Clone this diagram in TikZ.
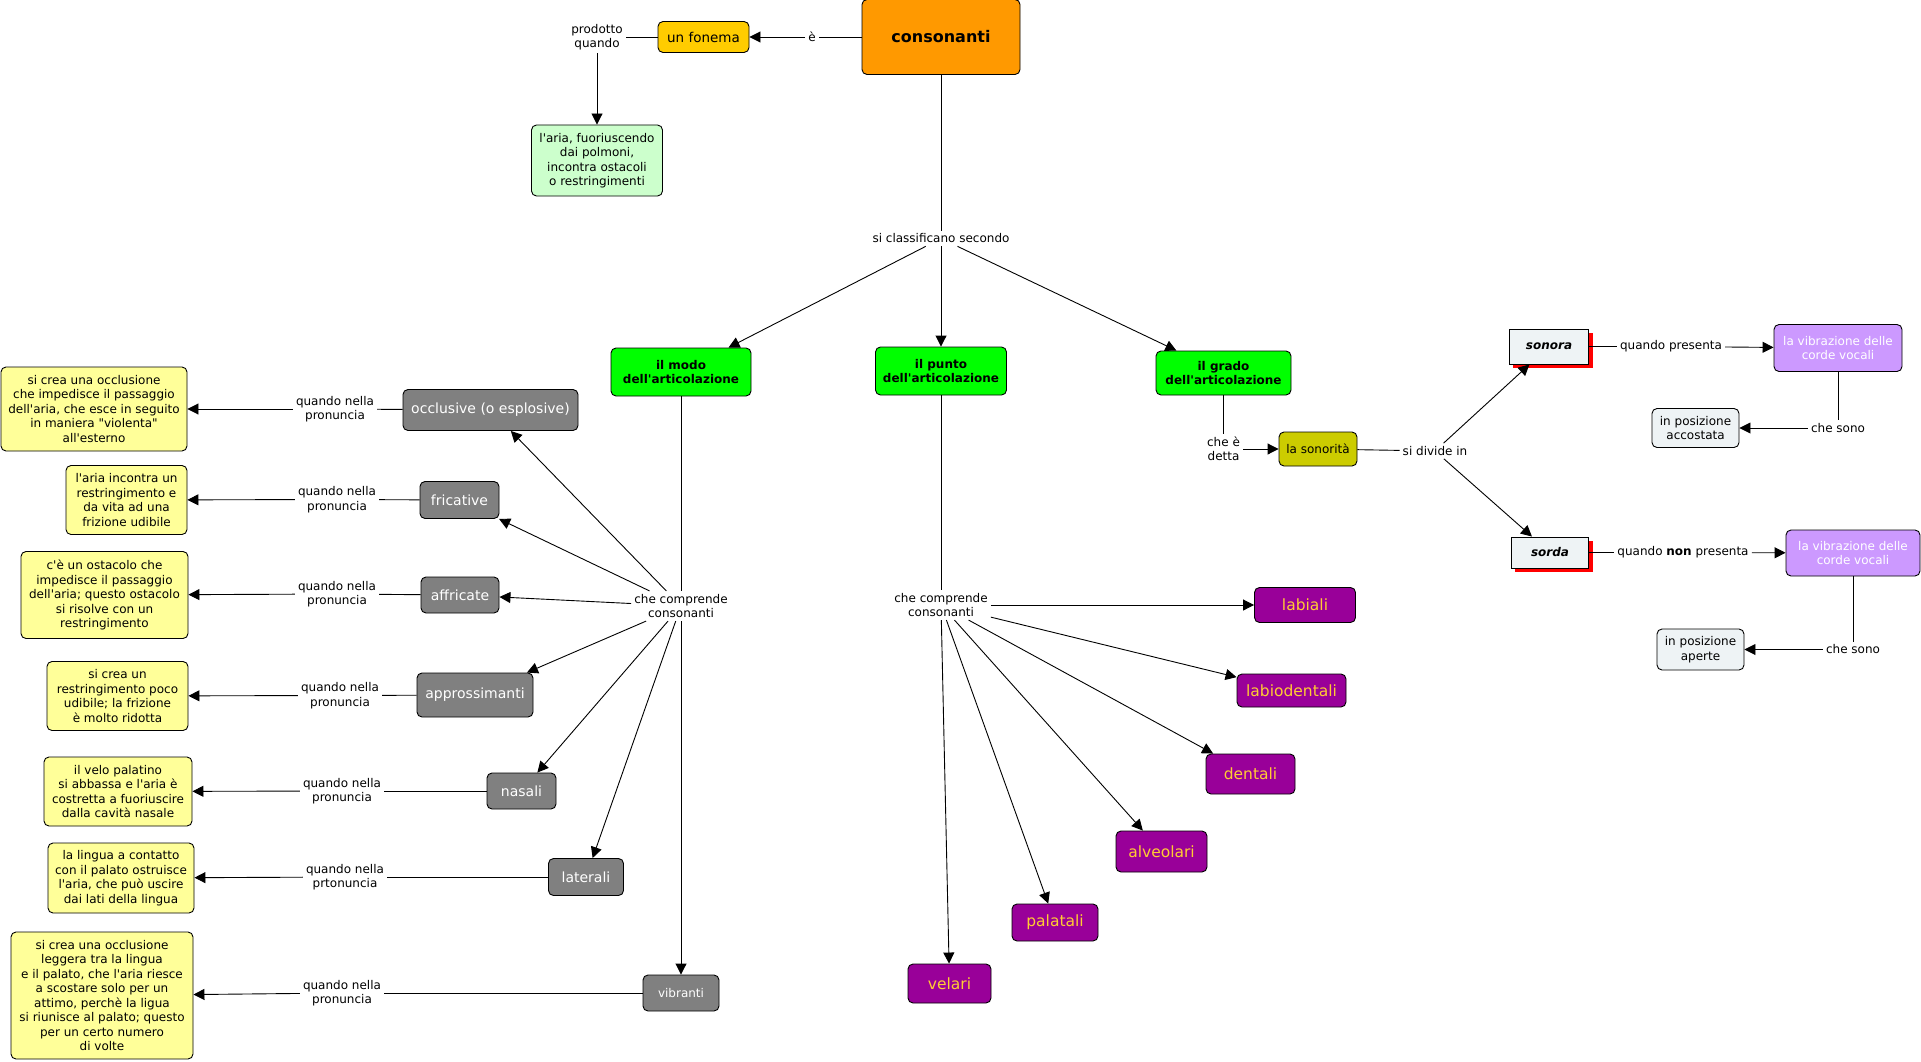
\documentclass[tikz,border=0pt]{standalone}
\usepackage{fontspec}
\setmainfont{DejaVu Sans}[Ligatures=TeXOff]
\usetikzlibrary{arrows.meta,shadows}
\definecolor{corange}{HTML}{FF9900}
\definecolor{cgold}{HTML}{FFCC00}
\definecolor{clgreen}{HTML}{CCFFCC}
\definecolor{cgreen}{HTML}{00FF00}
\definecolor{cgray}{HTML}{808080}
\definecolor{cyellow}{HTML}{FFFF99}
\definecolor{cpurple}{HTML}{990099}
\definecolor{cpurtext}{HTML}{FFCC33}
\definecolor{colive}{HTML}{CCCC00}
\definecolor{cpale}{HTML}{EEF3F5}
\definecolor{clav}{HTML}{CC99FF}
\newcommand\fsnorm{\fontsize{12}{14.5}\selectfont}
\tikzset{
  every node/.style={font=\fsnorm, align=center},
  sz/.style 2 args={minimum width=#1pt, minimum height=#2pt},
  box/.style={draw=black, line width=0.9pt, rounded corners=5pt, inner sep=2pt},
  graybox/.style={box, fill=cgray, text=white, font=\fontsize{14}{17}\selectfont},
  purplebox/.style={box, fill=cpurple, text=cpurtext, font=\fontsize{15.5}{18}\selectfont},
  yellowbox/.style={box, fill=cyellow},
  greenbox/.style={box, fill=cgreen, font=\bfseries\fontsize{12}{14.5}\selectfont},
  palebox/.style={box, fill=cpale},
  lavbox/.style={box, fill=clav, text=white},
  shadowbox/.style={draw=black, line width=0.9pt, fill=cpale, inner sep=2pt,
     font=\bfseries\itshape\fontsize{12}{14.5}\selectfont,
     drop shadow={shadow xshift=4pt, shadow yshift=-4pt, fill=red, opacity=1}},
  lab/.style={inner sep=3pt, fill=white},
  conn/.style={line width=0.9pt},
  arr/.style={conn, -{Triangle[length=11pt,width=11pt]}}
}
\begin{document}
\begin{tikzpicture}[x=1pt,y=-1pt]
\useasboundingbox (0,0) rectangle (1921,1062);
\fill[white] (0,0) rectangle (1921,1062);

% top
\node[box, fill=corange, sz={158}{75}, font=\bfseries\fontsize{16}{19}\selectfont] (cons) at (941,37) {consonanti};
\node[lab] (le) at (812,37) {è};
\node[box, fill=cgold, sz={91}{31}, font=\fontsize{13.5}{16}\selectfont] (fonema) at (703.5,37) {un fonema};
\node[lab] (lprod) at (597,37) {prodotto\\quando};
\node[box, fill=clgreen, sz={131}{71}] (aria) at (597,160.5) {l'aria, fuoriuscendo\\dai polmoni,\\incontra ostacoli\\o restringimenti};
\draw[conn] (cons) -- (le);
\draw[arr] (le) -- (fonema);
\draw[conn] (fonema) -- (lprod);
\draw[arr] (lprod) -- (aria);

\node[lab] (lclass) at (941,238.5) {si classificano secondo};
\node[greenbox, sz={140}{48}] (modo) at (681,372) {il modo\\dell'articolazione};
\node[greenbox, sz={131}{48}] (punto) at (941,371) {il punto\\dell'articolazione};
\node[greenbox, sz={135}{44}] (grado) at (1223.5,373) {il grado\\dell'articolazione};
\draw[conn] (cons) -- (lclass);
\draw[arr] (lclass) -- (modo);
\draw[arr] (lclass) -- (punto);
\draw[arr] (lclass) -- (grado);

% modo branch
\node[lab] (cc1) at (681,606) {che comprende\\consonanti};
\draw[conn] (modo) -- (cc1);
\node[graybox, sz={175}{41}] (occl) at (490.5,410) {occlusive (o esplosive)};
\node[graybox, sz={79}{37}] (fric) at (459.5,500) {fricative};
\node[graybox, sz={78}{36}] (affr) at (460,595) {affricate};
\node[graybox, sz={116}{44}] (appr) at (475,695) {approssimanti};
\node[graybox, sz={69}{36}] (nasa) at (521.5,791) {nasali};
\node[graybox, sz={75}{37}] (late) at (586,877) {laterali};
\node[graybox, sz={76}{36}, font=\fsnorm] (vibr) at (681,993) {vibranti};
\foreach \n in {occl,fric,affr,appr,nasa,late,vibr} \draw[arr] (cc1) -- (\n);

\node[yellowbox, sz={186}{84}] (y1) at (94,409) {si crea una occlusione\\che impedisce il passaggio\\dell'aria, che esce in seguito\\in maniera "violenta"\\all'esterno};
\node[yellowbox, sz={121}{69}] (y2) at (126.5,500) {l'aria incontra un\\restringimento e\\da vita ad una\\frizione udibile};
\node[yellowbox, sz={167}{87}] (y3) at (104.5,595) {c'è un ostacolo che\\impedisce il passaggio\\dell'aria; questo ostacolo\\si risolve con un\\restringimento};
\node[yellowbox, sz={141}{69}] (y4) at (117.5,696) {si crea un\\restringimento poco\\udibile; la frizione\\è molto ridotta};
\node[yellowbox, sz={148}{69}] (y5) at (118,791.5) {il velo palatino\\si abbassa e l'aria è\\costretta a fuoriuscire\\dalla cavità nasale};
\node[yellowbox, sz={146}{70}] (y6) at (121,878) {la lingua a contatto\\con il palato ostruisce\\l'aria, che può uscire\\dai lati della lingua};
\node[yellowbox, sz={182}{127}] (y7) at (102,995.5) {si crea una occlusione\\leggera tra la lingua\\e il palato, che l'aria riesce\\a scostare solo per un\\attimo, perchè la ligua\\si riunisce al palato; questo\\per un certo numero\\di volte};

\node[lab] (l1) at (335,409) {quando nella\\pronuncia};
\node[lab] (l2) at (337,499.5) {quando nella\\pronuncia};
\node[lab] (l3) at (337,594) {quando nella\\pronuncia};
\node[lab] (l4) at (340,695.5) {quando nella\\pronuncia};
\node[lab] (l5) at (342,791) {quando nella\\pronuncia};
\node[lab] (l6) at (345,877) {quando nella\\prtonuncia};
\node[lab] (l7) at (342,993) {quando nella\\pronuncia};
\draw[conn] (occl) -- (l1); \draw[arr] (l1) -- (y1);
\draw[conn] (fric) -- (l2); \draw[arr] (l2) -- (y2);
\draw[conn] (affr) -- (l3); \draw[arr] (l3) -- (y3);
\draw[conn] (appr) -- (l4); \draw[arr] (l4) -- (y4);
\draw[conn] (nasa) -- (l5); \draw[arr] (l5) -- (y5);
\draw[conn] (late) -- (l6); \draw[arr] (l6) -- (y6);
\draw[conn] (vibr) -- (l7); \draw[arr] (l7) -- (y7);

% punto branch
\node[lab] (cc2) at (941,605) {che comprende\\consonanti};
\draw[conn] (punto) -- (cc2);
\node[purplebox, sz={101}{35}] (labi) at (1305,605) {labiali};
\node[purplebox, sz={109}{33}] (labd) at (1291.5,690.5) {labiodentali};
\node[purplebox, sz={89}{40}] (dent) at (1250.5,774) {dentali};
\node[purplebox, sz={91}{41}] (alve) at (1161.5,851.5) {alveolari};
\node[purplebox, sz={86}{37}] (pala) at (1055,922.5) {palatali};
\node[purplebox, sz={83}{39}] (vela) at (949.5,983.5) {velari};
\foreach \n in {labi,labd,dent,alve,pala,vela} \draw[arr] (cc2) -- (\n);

% grado branch
\node[lab] (ldetta) at (1223.5,449) {che è\\detta};
\node[box, fill=colive, sz={78}{34}] (sono) at (1318,449) {la sonorità};
\node[lab] (ldiv) at (1435,451) {si divide in};
\draw[conn] (grado) -- (ldetta);
\draw[arr] (ldetta) -- (sono);
\draw[conn] (sono) -- (ldiv);
\node[shadowbox, sz={79.5}{35}] (sonora) at (1549,346.5) {sonora};
\node[shadowbox, sz={77.5}{31}] (sorda) at (1550,552.5) {sorda};
\draw[arr] (ldiv) -- (sonora);
\draw[arr] (ldiv) -- (sorda);

\node[lavbox, sz={128}{47}] (vib1) at (1838,348) {la vibrazione delle\\corde vocali};
\node[lavbox, sz={134}{46}] (vib2) at (1853,553) {la vibrazione delle\\corde vocali};
\node[palebox, sz={87}{39}] (acc) at (1695.5,428) {in posizione\\accostata};
\node[palebox, sz={87}{41}] (ape) at (1700.5,649.5) {in posizione\\aperte};
\node[lab] (lpres) at (1671,346.5) {quando presenta};
\node[lab] (lnon) at (1683,552.5) {quando \textbf{non} presenta};
\node[lab] (ls1) at (1838,428) {che sono};
\node[lab] (ls2) at (1853,649.5) {che sono};
\draw[conn] (sonora) -- (lpres); \draw[arr] (lpres) -- (vib1);
\draw[conn] (vib1) -- (ls1); \draw[arr] (ls1) -- (acc);
\draw[conn] (sorda) -- (lnon); \draw[arr] (lnon) -- (vib2);
\draw[conn] (vib2) -- (ls2); \draw[arr] (ls2) -- (ape);
\end{tikzpicture}
\end{document}
